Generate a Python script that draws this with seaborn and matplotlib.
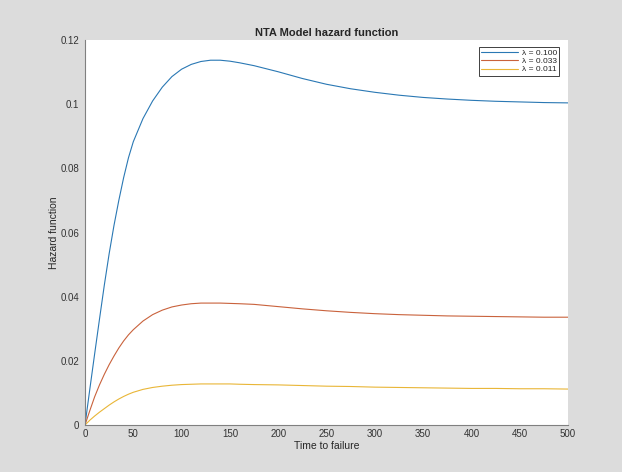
import pandas as pd
import matplotlib
matplotlib.use("Agg")
import matplotlib.pyplot as plt
import seaborn as sns

# values
time = [0, 5, 10, 15, 20, 25, 30, 35, 40, 45, 50, 60, 70, 80, 90, 100, 110, 120,
        130, 140, 150, 160, 175, 200, 225, 250, 275, 300, 325, 350, 375, 400,
        425, 450, 475, 500]
hazard_100 = [0, 0.0112, 0.0222, 0.0330, 0.0436, 0.0534, 0.0622, 0.0700, 0.0771,
              0.0833, 0.0883, 0.0955, 0.1010, 0.1053, 0.1086, 0.1109, 0.1124,
              0.1133, 0.1137, 0.1137, 0.1134, 0.1129, 0.1120, 0.1101, 0.1080,
              0.1062, 0.1048, 0.1037, 0.1028, 0.1021, 0.1016, 0.1012, 0.1009,
              0.1007, 0.1005, 0.1004]
hazard_033 = [0, 0.0045, 0.0088, 0.0125, 0.0158, 0.0188, 0.0215, 0.0240, 0.0262,
              0.0281, 0.0297, 0.0324, 0.0344, 0.0358, 0.0368, 0.0374, 0.0378,
              0.0380, 0.0380, 0.0380, 0.0379, 0.0378, 0.0376, 0.0369, 0.0362,
              0.0356, 0.0351, 0.0347, 0.0344, 0.0342, 0.0340, 0.0339, 0.0338,
              0.0337, 0.0336, 0.0336]
hazard_011 = [0, 0.0015, 0.0028, 0.0040, 0.0051, 0.0062, 0.0072, 0.0081, 0.0089,
              0.0096, 0.0102, 0.0111, 0.0117, 0.0121, 0.0124, 0.0126, 0.0127,
              0.0128, 0.0128, 0.0128, 0.0128, 0.0127, 0.0126, 0.0125, 0.0123,
              0.0121, 0.0120, 0.0118, 0.0117, 0.0116, 0.0115, 0.0114, 0.0114,
              0.0113, 0.0113, 0.0112]
labels = ["λ = 0.100", "λ = 0.033", "λ = 0.011"]
colors = ["#2a78b4", "#c9623c", "#e9b637"]

df = pd.concat([
    pd.DataFrame({"t": time, "h": vals, "series": lab})
    for vals, lab in zip([hazard_100, hazard_033, hazard_011], labels)
])

sns.set_style("white")
plt.rcParams["font.family"] = ["Liberation Sans", "DejaVu Sans"]

fig = plt.figure(figsize=(6.22, 4.72), dpi=100, facecolor="#dcdcdc")
ax = fig.add_axes([85 / 622, 1 - 425 / 472, 483 / 622, 385 / 472])
ax.set_facecolor("white")

sns.lineplot(data=df, x="t", y="h", hue="series", palette=colors, ax=ax,
             linewidth=0.8, legend=True)

ax.set_xlim(0, 500)
ax.set_ylim(0, 0.12)
ax.set_xticks(range(0, 501, 50))
ax.set_yticks([0, 0.02, 0.04, 0.06, 0.08, 0.1, 0.12])
ax.set_yticklabels(["0", "0.02", "0.04", "0.06", "0.08", "0.1", "0.12"])
ax.tick_params(direction="in", length=3, width=0.6, labelsize=7, colors="#333333",
               pad=3)
ax.tick_params(axis="y", pad=4)
for side in ["top", "right"]:
    ax.spines[side].set_visible(False)
for side in ["left", "bottom"]:
    ax.spines[side].set_color("#808080")
    ax.spines[side].set_linewidth(0.8)

ax.set_xlabel("Time to failure", fontsize=7.5, labelpad=1)
ax.set_ylabel("Hazard function", fontsize=7.5, labelpad=1)
ax.set_title("NTA Model hazard function", fontsize=8, fontweight="bold", pad=3)

leg = ax.legend(loc="upper right", bbox_to_anchor=(1 - 9 / 483, 1 - 7 / 385),
                borderaxespad=0, fontsize=6, handlelength=4.5, labelspacing=0.05,
                borderpad=0.25, handletextpad=0.4, fancybox=False, framealpha=1)
leg.get_frame().set_edgecolor("#404040")
leg.get_frame().set_linewidth(0.7)

fig.savefig("out.png", dpi=100, facecolor=fig.get_facecolor())
